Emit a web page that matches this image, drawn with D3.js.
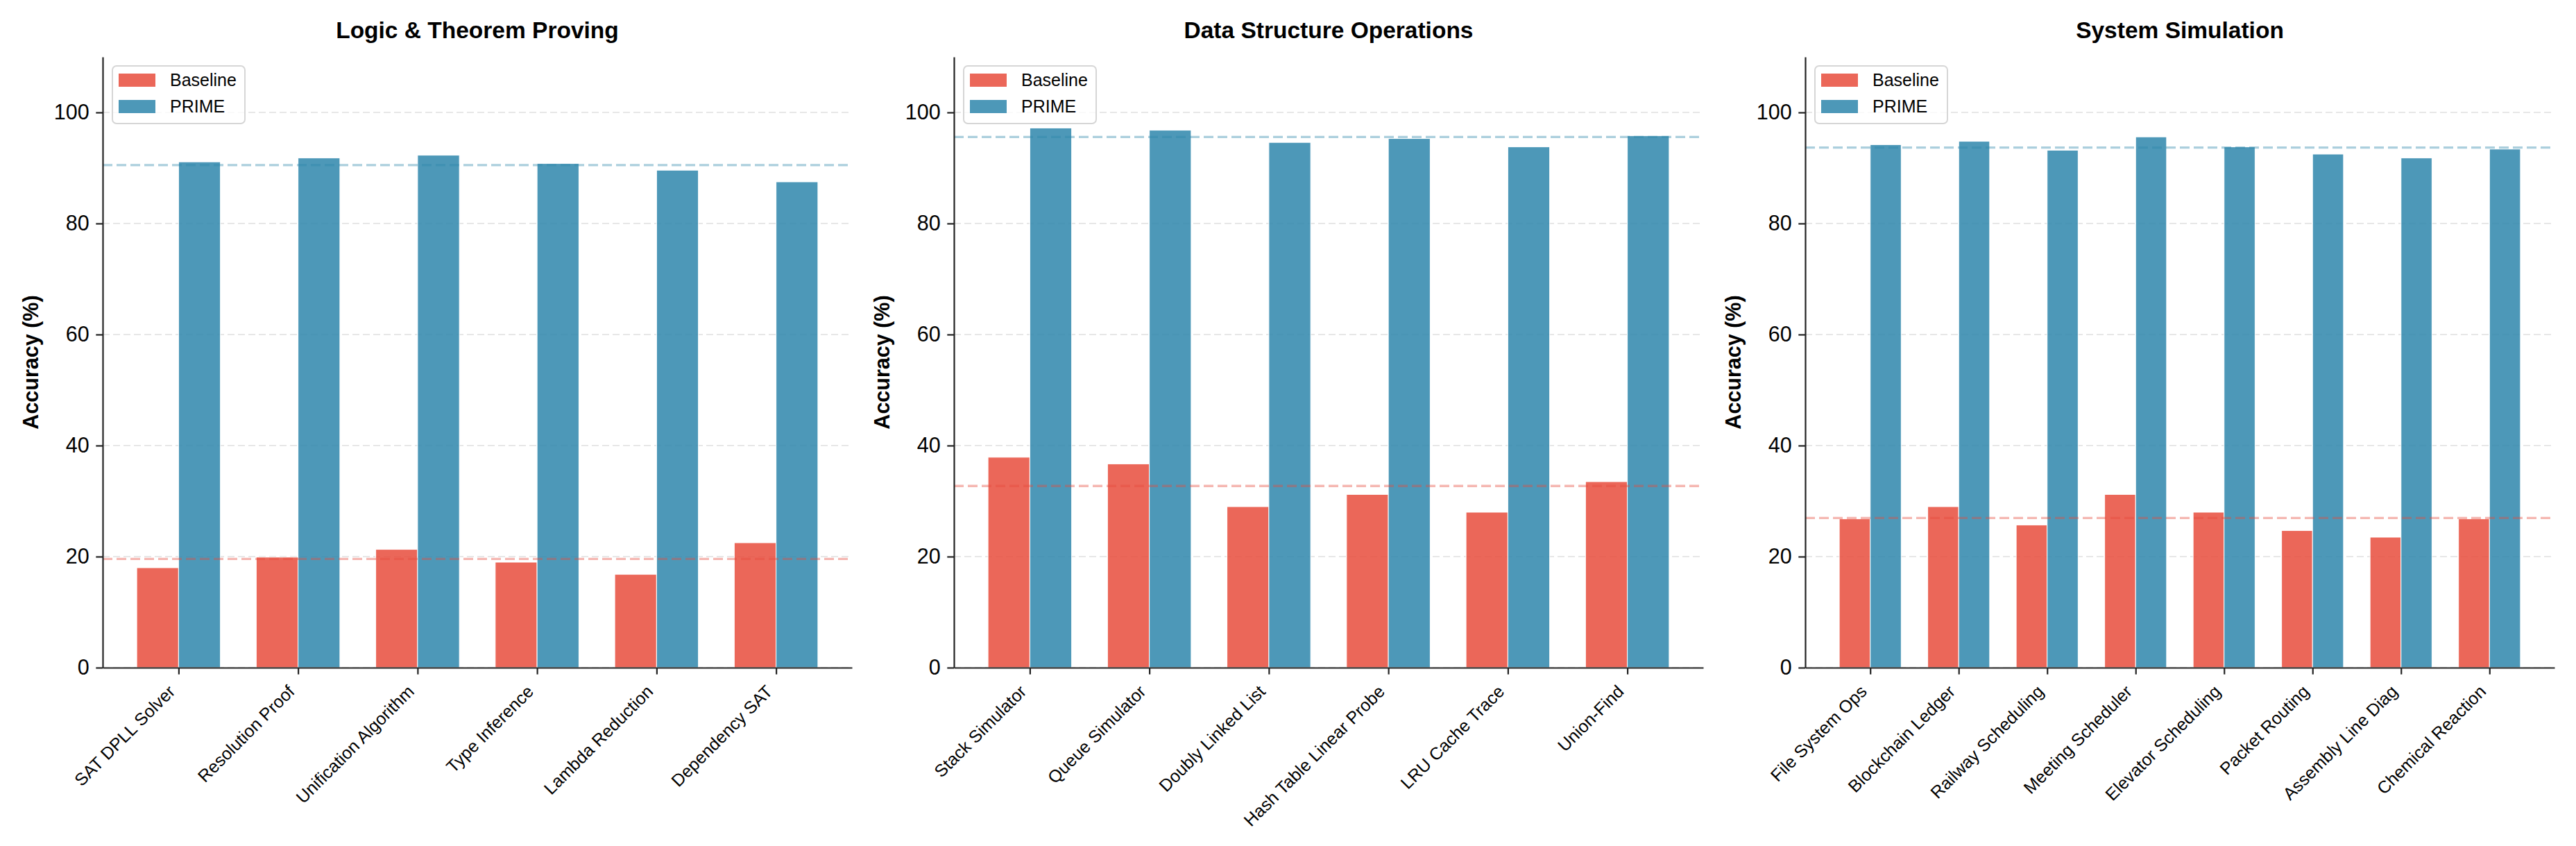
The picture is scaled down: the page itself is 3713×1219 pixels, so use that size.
<!DOCTYPE html>
<html>
<head>
<meta charset="utf-8">
<script src="https://cdn.jsdelivr.net/npm/d3@7"></script>
<style>
  body { margin: 0; background: #fff; }
  text { font-family: "Liberation Sans", Arial, Helvetica, sans-serif; }
</style>
</head>
<body>
<svg id="chart" width="3713" height="1219"></svg>
<script>
// Data
var panelTitles = ['Logic & Theorem Proving', 'Data Structure Operations', 'System Simulation'];
var seriesNames = ['Baseline', 'PRIME'];
var seriesColors = ['#E74C3C', '#2E86AB'];
var yTicks = [0, 20, 40, 60, 80, 100];

var logicTasks = ['SAT DPLL Solver', 'Resolution Proof', 'Unification Algorithm', 'Type Inference', 'Lambda Reduction', 'Dependency SAT'];
var logicBaseline = [18.0, 19.9, 21.3, 19.0, 16.8, 22.5];
var logicPrime = [91.1, 91.8, 92.3, 90.8, 89.6, 87.5];

var dataTasks = ['Stack Simulator', 'Queue Simulator', 'Doubly Linked List', 'Hash Table Linear Probe', 'LRU Cache Trace', 'Union-Find'];
var dataBaseline = [37.9, 36.7, 29.0, 31.2, 28.0, 33.5];
var dataPrime = [97.2, 96.8, 94.6, 95.3, 93.8, 95.8];

var simTasks = ['File System Ops', 'Blockchain Ledger', 'Railway Scheduling', 'Meeting Scheduler', 'Elevator Scheduling', 'Packet Routing', 'Assembly Line Diag', 'Chemical Reaction'];
var simBaseline = [26.8, 29.0, 25.7, 31.2, 28.0, 24.7, 23.5, 26.8];
var simPrime = [94.2, 94.8, 93.2, 95.6, 93.8, 92.5, 91.8, 93.4];

var panels = [
  {title: panelTitles[0], tasks: logicTasks, values: [logicBaseline, logicPrime]},
  {title: panelTitles[1], tasks: dataTasks, values: [dataBaseline, dataPrime]},
  {title: panelTitles[2], tasks: simTasks, values: [simBaseline, simPrime]}
];

var svg = d3.select('#chart');
var plotW = 1080, plotTop = 82, plotBottom = 962;
var lefts = [148, 1375, 2602];
var barW = 0.35;

panels.forEach(function(p, pi) {
  var g = svg.append('g').attr('transform', 'translate(' + lefts[pi] + ',0)');
  var n = p.tasks.length;
  var span = (n - 1) + 2 * barW;
  var pad = 0.05 * span;

  var x = d3.scaleLinear().domain([-barW - pad, n - 1 + barW + pad]).range([0, plotW]);
  var y = d3.scaleLinear().domain([0, 110]).range([plotBottom, plotTop]);

  // grid
  g.selectAll('.grid')
    .data(yTicks)
    .enter().append('line')
    .attr('x1', 0).attr('x2', plotW)
    .attr('y1', function(d) { return y(d); })
    .attr('y2', function(d) { return y(d); })
    .attr('stroke', '#b0b0b0')
    .attr('stroke-opacity', 0.3)
    .attr('stroke-width', 2)
    .attr('stroke-dasharray', '10,5');

  // bars
  p.values.forEach(function(vals, si) {
    g.selectAll('.bar' + si)
      .data(vals)
      .enter().append('rect')
      .attr('x', function(d, i) { return x(si === 0 ? i - barW : i); })
      .attr('y', function(d) { return y(d); })
      .attr('width', x(barW) - x(0))
      .attr('height', function(d) { return plotBottom - y(d); })
      .attr('fill', seriesColors[si])
      .attr('fill-opacity', 0.85)
      .attr('stroke', '#fff')
      .attr('stroke-width', 1);
  });

  // mean lines
  p.values.forEach(function(vals, si) {
    var m = d3.mean(vals);
    g.append('line')
      .attr('x1', 0).attr('x2', plotW)
      .attr('y1', y(m)).attr('y2', y(m))
      .attr('stroke', seriesColors[si])
      .attr('stroke-opacity', 0.4)
      .attr('stroke-width', 3.3)
      .attr('stroke-dasharray', '14,6');
  });

  // y axis
  var yAxis = g.append('g')
    .call(d3.axisLeft(y).tickValues(yTicks).tickSize(9.7).tickSizeOuter(0).tickPadding(9.7));
  yAxis.select('.domain').attr('stroke', '#222').attr('stroke-width', 2.2);
  yAxis.selectAll('.tick line').attr('stroke', '#222').attr('stroke-width', 2.2);
  yAxis.selectAll('.tick text')
    .style('font-size', '30.5px')
    .style('font-family', '"Liberation Sans", Arial, sans-serif')
    .attr('fill', '#000');

  // x axis
  var xAxis = g.append('g')
    .attr('transform', 'translate(0,' + plotBottom + ')')
    .call(d3.axisBottom(x).tickValues(d3.range(n)).tickSize(9.7).tickSizeOuter(0).tickFormat(''));
  xAxis.select('.domain').attr('stroke', '#222').attr('stroke-width', 2.2);
  xAxis.selectAll('.tick line').attr('stroke', '#222').attr('stroke-width', 2.2);

  g.selectAll('.xlab')
    .data(p.tasks)
    .enter().append('text')
    .attr('transform', function(d, i) {
      return 'translate(' + (x(i) - 3.5) + ',' + (plotBottom + 36) + ') rotate(-45)';
    })
    .attr('text-anchor', 'end')
    .style('font-size', '25px')
    .attr('fill', '#000')
    .text(function(d) { return d; });

  // title
  g.append('text')
    .attr('x', plotW / 2).attr('y', 55)
    .attr('text-anchor', 'middle')
    .style('font-size', '33.5px')
    .style('font-weight', 'bold')
    .text(p.title);

  // y label
  g.append('text')
    .attr('transform', 'translate(' + (55 - 148) + ',' + ((plotTop + plotBottom) / 2) + ') rotate(-90)')
    .attr('text-anchor', 'middle')
    .style('font-size', '30.5px')
    .style('font-weight', 'bold')
    .text('Accuracy (%)');

  // legend
  var lg = g.append('g').attr('transform', 'translate(14,95)');
  lg.append('rect')
    .attr('width', 191).attr('height', 83)
    .attr('rx', 6).attr('ry', 6)
    .attr('fill', '#fff').attr('fill-opacity', 0.8)
    .attr('stroke', '#d6d6d6').attr('stroke-width', 2);
  seriesNames.forEach(function(s, si) {
    lg.append('rect')
      .attr('x', 9).attr('y', 11 + si * 38)
      .attr('width', 53).attr('height', 19)
      .attr('fill', seriesColors[si]).attr('fill-opacity', 0.85);
    lg.append('text')
      .attr('x', 83).attr('y', 29 + si * 38)
      .style('font-size', '25px')
      .text(s);
  });
});
</script>
</body>
</html>
